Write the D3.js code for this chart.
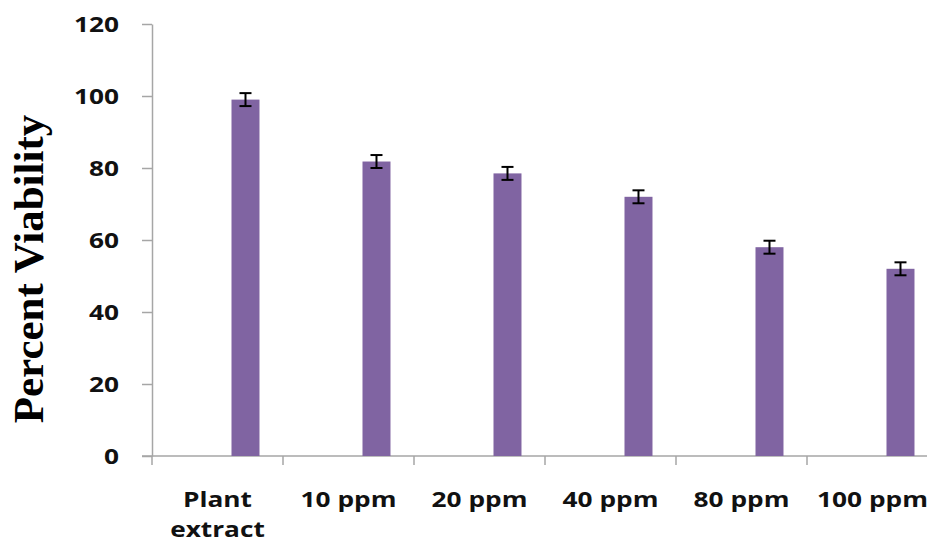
<!DOCTYPE html>
<html>
<head>
<meta charset="utf-8">
<script src="https://cdn.jsdelivr.net/npm/d3@7"></script>
<style>
  html, body { margin: 0; padding: 0; background: #fff; }
  svg { display: block; }
</style>
</head>
<body>
<svg id="chart" width="927" height="542"></svg>
<script>
// ---- data ----
const categories = ["Plant extract", "10 ppm", "20 ppm", "40 ppm", "80 ppm", "100 ppm"];
const viability = [99, 81.8, 78.5, 72, 58, 52];
const errors = [1.8, 1.8, 1.8, 1.8, 1.8, 1.8];
const yTicks = [0, 20, 40, 60, 80, 100, 120];
const yTitle = "Percent Viability";

// ---- layout ----
const svg = d3.select("#chart");
const plotLeft = 152, plotTop = 24, plotBottom = 456, plotRight = 938;

const y = d3.scaleLinear().domain([0, 120]).range([plotBottom, plotTop]);
const x = d3.scaleBand().domain(categories).range([plotLeft, plotRight]).padding(0);
// Excel-like clustered slot: bar occupies the 3rd slot of a 3-slot cluster
const slot = d3.scaleBand().domain(["s1", "s2", "s3"]).range([0, x.bandwidth()])
  .paddingInner(0).paddingOuter(0.84);

const axisColor = "#a6a6a6";
const textScale = 1.25;

// y axis
const yAxis = svg.append("g")
  .attr("transform", `translate(${plotLeft},0)`)
  .call(d3.axisLeft(y).tickValues(yTicks).tickSize(10).tickSizeOuter(0).tickFormat(d3.format("d")));
yAxis.select(".domain").attr("stroke", axisColor).attr("stroke-width", 1.5);
yAxis.selectAll(".tick line").attr("stroke", axisColor).attr("stroke-width", 1.5);
yAxis.selectAll(".tick text")
  .attr("x", 0).attr("dy", "0.36em")
  .attr("transform", `translate(-33,0) scale(${textScale},1)`)
  .attr("fill", "#111")
  .style("font-family", "'Open Sans', sans-serif")
  .style("font-weight", 700)
  .style("font-size", "21px");

// x axis line
const xAxis = svg.append("g");
xAxis.append("line")
  .attr("x1", plotLeft - 10).attr("x2", plotRight)
  .attr("y1", y(0)).attr("y2", y(0))
  .attr("stroke", axisColor).attr("stroke-width", 1.5);
// boundary ticks
xAxis.selectAll("line.xt")
  .data(categories)
  .join("line")
  .attr("class", "xt")
  .attr("x1", d => x(d)).attr("x2", d => x(d))
  .attr("y1", y(0)).attr("y2", y(0) + 9)
  .attr("stroke", axisColor).attr("stroke-width", 1.5);

// x labels
const labelG = svg.append("g");
categories.forEach(c => {
  const words = c === "Plant extract" ? ["Plant", "extract"] : [c];
  const t = labelG.append("text")
    .attr("transform", `translate(${x(c) + x.bandwidth() / 2},507) scale(${textScale},1)`)
    .attr("text-anchor", "middle")
    .attr("fill", "#111")
    .style("font-family", "'Open Sans', sans-serif")
    .style("font-weight", 700)
    .style("font-size", "21px");
  words.forEach((w, i) => {
    t.append("tspan").attr("x", 0).attr("dy", i === 0 ? 0 : 30).text(w);
  });
});

// bars
const data = categories.map((c, i) => ({ c, v: viability[i], e: errors[i] }));
svg.append("g").selectAll("rect")
  .data(data)
  .join("rect")
  .attr("x", d => x(d.c) + slot("s3"))
  .attr("width", slot.bandwidth())
  .attr("y", d => y(d.v))
  .attr("height", d => y(0) - y(d.v))
  .attr("fill", "#8064a2");

// error bars
const eg = svg.append("g").attr("stroke", "#000").attr("stroke-width", 2);
data.forEach(d => {
  const cx = x(d.c) + slot("s3") + slot.bandwidth() / 2;
  eg.append("line").attr("x1", cx).attr("x2", cx).attr("y1", y(d.v + d.e)).attr("y2", y(d.v - d.e));
  eg.append("line").attr("x1", cx - 6).attr("x2", cx + 6).attr("y1", y(d.v + d.e)).attr("y2", y(d.v + d.e));
  eg.append("line").attr("x1", cx - 6).attr("x2", cx + 6).attr("y1", y(d.v - d.e)).attr("y2", y(d.v - d.e));
});

// y title
svg.append("text")
  .attr("transform", `translate(43,269) rotate(-90)`)
  .attr("text-anchor", "middle")
  .attr("fill", "#000")
  .style("font-family", "'Liberation Serif', 'Times New Roman', serif")
  .style("font-weight", 700)
  .style("font-size", "43px")
  .text(yTitle);
</script>
</body>
</html>
